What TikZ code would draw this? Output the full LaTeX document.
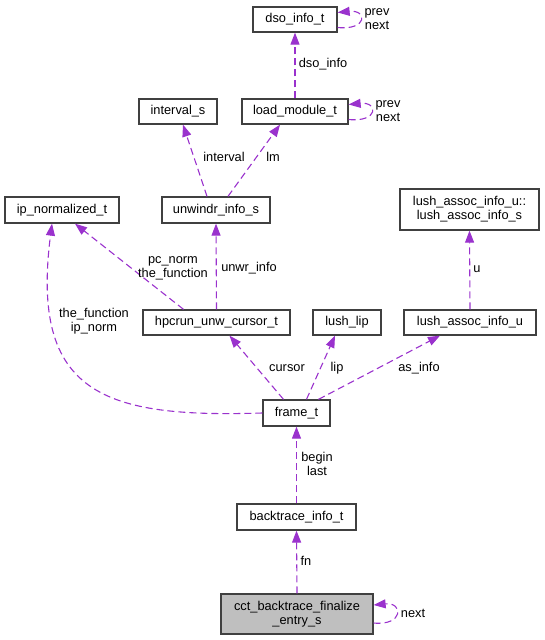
\documentclass[tikz,border=0pt]{standalone}
\usepackage{fontspec}
\setmainfont{Liberation Sans}
\usetikzlibrary{arrows.meta,calc}
\definecolor{edgec}{HTML}{9A32CD}
\definecolor{boxc}{HTML}{404040}
\begin{document}
\begin{tikzpicture}[x=1pt,y=-1pt,
  every node/.style={font=\fontsize{12.8}{14}\selectfont},
  box/.style={draw=boxc,line width=1.3pt,fill=white,inner sep=0pt,align=center},
  focus/.style={box,fill=black!25},
  edge/.style={draw=edgec,line width=1.1pt,dash pattern=on 7pt off 4pt,-{Triangle[length=12pt,width=9pt]}},
  lbl/.style={align=center,inner sep=0pt}]
\useasboundingbox (0,0) rectangle (545,640);
% nodes
\node[box,minimum width=84pt,minimum height=25pt] (dso) at (295,19.5) {dso\_info\_t};
\node[box,minimum width=106pt,minimum height=25pt] (load) at (295,111.5) {load\_module\_t};
\node[box,minimum width=78pt,minimum height=25pt] (interval) at (178,111.5) {interval\_s};
\node[box,minimum width=108pt,minimum height=26pt] (unwindr) at (216,210) {unwindr\_info\_s};
\node[box,minimum width=114pt,minimum height=26pt] (ipnorm) at (62,210) {ip\_normalized\_t};
\node[box,minimum width=139pt,minimum height=41pt] (lushs) at (469.5,209.5) {lush\_assoc\_info\_u::\\lush\_assoc\_info\_s};
\node[box,minimum width=147pt,minimum height=25pt] (hpcrun) at (216.5,322.5) {hpcrun\_unw\_cursor\_t};
\node[box,minimum width=68pt,minimum height=25pt] (lip) at (347,322.5) {lush\_lip};
\node[box,minimum width=132pt,minimum height=25pt] (lushu) at (470,322.5) {lush\_assoc\_info\_u};
\node[box,minimum width=67pt,minimum height=26pt] (frame) at (296.5,413) {frame\_t};
\node[box,minimum width=119pt,minimum height=26pt] (bt) at (296.5,517) {backtrace\_info\_t};
\node[focus,minimum width=152pt,minimum height=40pt] (cct) at (297,614) {cct\_backtrace\_finalize\\\_entry\_s};
% edges
\draw[edge] (load.north) -- (dso.south);
\draw[edge] ($(dso.east)+(0,8)$) .. controls +(30,3) and +(30,-3) .. ($(dso.east)+(0,-7)$);
\draw[edge] ($(load.east)+(0,8)$) .. controls +(30,3) and +(30,-3) .. ($(load.east)+(0,-7)$);
\draw[edge] ($(cct.east)+(0,9)$) .. controls +(30,3) and +(30,-3) .. ($(cct.east)+(0,-9)$);
\draw[edge] ($(unwindr.north)+(-9,0)$) -- ($(interval.south)+(5,0)$);
\draw[edge] ($(unwindr.north)+(12,0)$) -- ($(load.south)+(-15,0)$);
\draw[edge] (hpcrun.north) -- (unwindr.south);
\draw[edge] ($(hpcrun.north)+(-33,0)$) -- ($(ipnorm.south)+(13,0)$);
\draw[edge] (frame.west) .. controls (105,418) and (30,395) .. ($(ipnorm.south)+(-10,0)$);
\draw[edge] ($(frame.north)+(-13,0)$) -- ($(hpcrun.south)+(13,0)$);
\draw[edge] ($(frame.north)+(10,0)$) -- ($(lip.south)+(-12,0)$);
\draw[edge] ($(frame.north)+(22,0)$) -- ($(lushu.south)+(-30,0)$);
\draw[edge] (lushu.north) -- (lushs.south);
\draw[edge] (bt.north) -- (frame.south);
\draw[edge] (cct.north) -- (bt.south);
% labels
\node[lbl] (l1) at (377,19) {prev\\next};
\node[lbl] (l2) at (388,111) {prev\\next};
\node[lbl] (l3) at (323,64) {dso\_info};
\node[lbl] (l4) at (224,157) {interval};
\node[lbl] (l5) at (273,157) {lm};
\node[lbl] (l6) at (173,268) {pc\_norm\\the\_function};
\node[lbl] (l7) at (249,268) {unwr\_info};
\node[lbl] (l8) at (94,321) {the\_function\\ip\_norm};
\node[lbl] (l9) at (477,269) {u};
\node[lbl] (l10) at (287,368) {cursor};
\node[lbl] (l11) at (337,368) {lip};
\node[lbl] (l12) at (419,368) {as\_info};
\node[lbl] (l13) at (317,464) {begin\\last};
\node[lbl] (l14) at (306,561) {fn};
\node[lbl] (l15) at (413,613) {next};
\end{tikzpicture}
\end{document}
